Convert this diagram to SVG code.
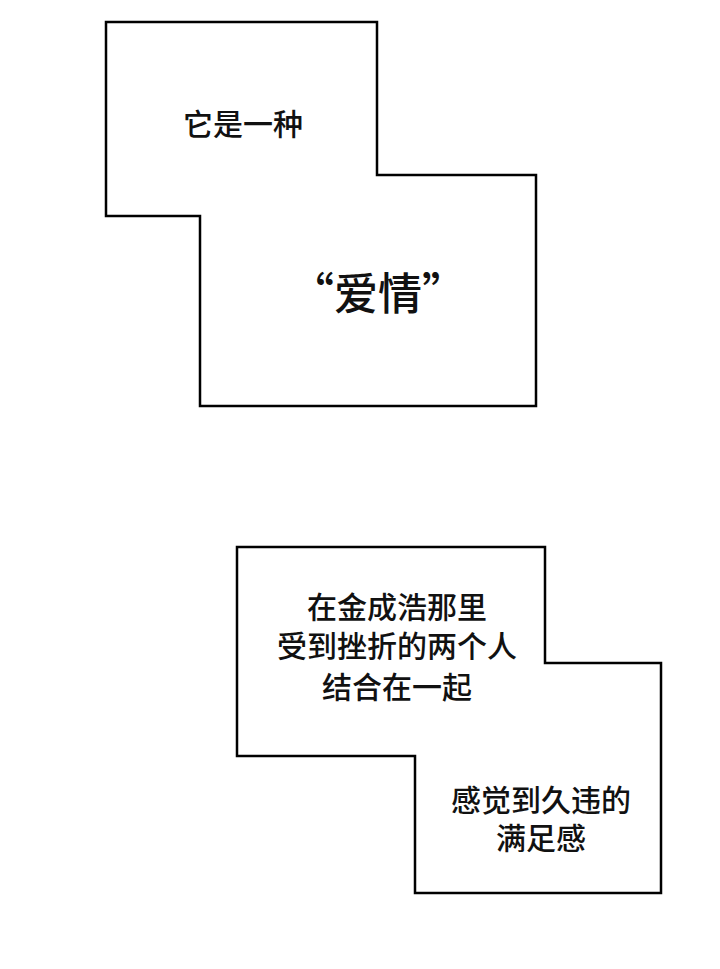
<svg xmlns="http://www.w3.org/2000/svg" width="720" height="969" viewBox="0 0 720 969">
<style>
.box{fill:#fff;stroke:#000;stroke-width:2.5}
.t{font-family:"Noto Sans CJK SC","Noto Sans",sans-serif;fill:#111;text-anchor:middle;font-weight:500;font-size:30px}
</style>
<rect width="720" height="969" fill="#fff"/>
<g id="box1">
<polygon class="box" points="106,22 377,22 377,175 536,175 536,406 200,406 200,216 106,216"/>
<text class="t" x="243" y="135">它是一种</text>
<text class="t" x="378" y="310" style="font-size:44px">“爱情”</text>
</g>
<g id="box2">
<polygon class="box" points="237,547 545,547 545,663 661,663 661,893 415,893 415,756 237,756"/>
<text class="t" x="397" y="618">在金成浩那里</text>
<text class="t" x="397" y="657">受到挫折的两个人</text>
<text class="t" x="397" y="698">结合在一起</text>
<text class="t" x="541" y="811">感觉到久违的</text>
<text class="t" x="541" y="849">满足感</text>
</g>
<g id="connectors"/>
</svg>
